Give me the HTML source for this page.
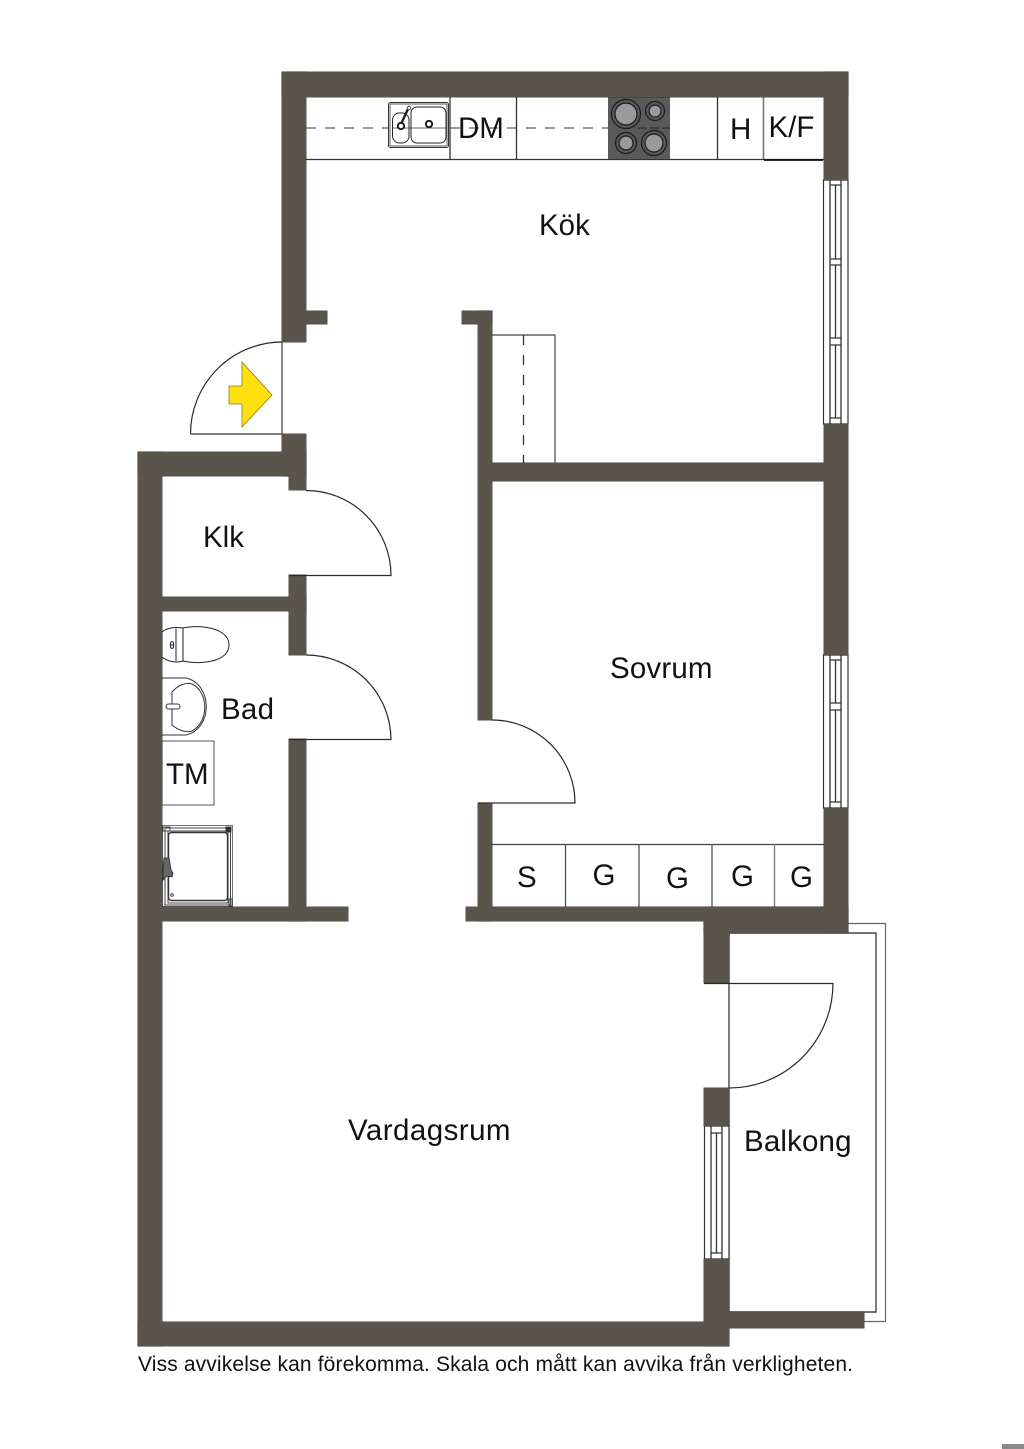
<!DOCTYPE html>
<html><head><meta charset="utf-8"><style>
html,body{margin:0;padding:0;background:#fff}
svg{display:block}
text{font-family:"Liberation Sans",sans-serif;fill:#111}
</style></head><body>
<svg width="1024" height="1449" viewBox="0 0 1024 1449" xmlns="http://www.w3.org/2000/svg">
<rect width="1024" height="1449" fill="#fff"/>
<rect x="1002" y="1444" width="22" height="5" fill="#8a8a8a"/>

<!-- balcony outlines -->
<path d="M848 923.500H885.500V1321.500H864" fill="none" stroke="#666" stroke-width="1.200"/>
<path d="M729 933H876V1312H729Z" fill="#fff" stroke="#444" stroke-width="1.400"/>

<!-- kitchen counter -->
<g fill="none" stroke="#333" stroke-width="1.300">
<path d="M306 159.500H824M450 97V159M516.500 97V159M717.500 97V159"/>
<path d="M763.500 97V159" stroke="#777" stroke-width="1.600"/>
</g>
<path d="M764 160H823" stroke="#111" stroke-width="1.800"/>
<path d="M306 128H388M450 128H608" stroke="#333" stroke-width="1" stroke-dasharray="10 9" fill="none"/>

<!-- sink -->
<rect x="388.500" y="102.500" width="60" height="45" rx="2" fill="#fff" stroke="#333" stroke-width="1"/>
<rect x="390" y="104" width="57" height="42" rx="1" fill="#fff" stroke="#777" stroke-width="1.200"/>
<rect x="392.500" y="113" width="16.500" height="30" rx="7" fill="#fff" stroke="#222" stroke-width="1"/>
<rect x="411" y="107" width="35" height="36" rx="6" fill="#fff" stroke="#222" stroke-width="1"/>
<path d="M392 128H446" stroke="#333" stroke-width="0.800" fill="none"/>
<circle cx="401" cy="126" r="3.200" fill="#fff" stroke="#111" stroke-width="1.800"/>
<circle cx="429" cy="124" r="3.200" fill="#fff" stroke="#111" stroke-width="1.800"/>
<path d="M401 124L408 109" stroke="#222" stroke-width="2.400" fill="none"/>
<circle cx="409" cy="108" r="1.800" fill="#fff" stroke="#222" stroke-width="0.800"/>

<!-- hob -->
<rect x="608" y="97" width="62" height="62" fill="#5a5a5a"/>
<path d="M638 128H670" stroke="#222" stroke-width="1" stroke-dasharray="9 3"/>
<g stroke="#1a1a1a" stroke-width="1.200">
<circle cx="626" cy="114" r="14.500" fill="#5a5a5a"/><circle cx="626" cy="114" r="11" fill="#9a9a9a"/>
<circle cx="655" cy="111" r="9.500" fill="#5a5a5a"/><circle cx="655" cy="111" r="6" fill="#9a9a9a"/>
<circle cx="626" cy="143" r="10.500" fill="#5a5a5a"/><circle cx="626" cy="143" r="7" fill="#9a9a9a"/>
<circle cx="654" cy="143" r="12.500" fill="#5a5a5a"/><circle cx="654" cy="143" r="9" fill="#9a9a9a"/>
</g>

<!-- storage unit in kitchen -->
<path d="M492 335H555V463" fill="none" stroke="#444" stroke-width="1.200"/>
<path d="M523.500 335V463" fill="none" stroke="#333" stroke-width="1.300" stroke-dasharray="10 10"/>

<!-- wardrobes -->
<path d="M492 844.500H824M565.500 844V907M639 844V907M712 844V907" fill="none" stroke="#444" stroke-width="1.200"/>
<path d="M774.500 844V907" fill="none" stroke="#777" stroke-width="1.300"/>

<!-- TM -->
<rect x="162" y="741" width="52" height="64" fill="#fff" stroke="#555" stroke-width="1"/>

<!-- toilet -->
<g fill="#fff" stroke="#222" stroke-width="1">
<path d="M183 628C200 624 229 628 229 645C229 662 200 665 183 661Z"/>
<path d="M162 632C168 627 177 627 183 628V661C177 663 168 662 162 657Z"/>
<path d="M176 628.500V661"/>
<ellipse cx="172" cy="645" rx="1.700" ry="3.500"/>
<path d="M170.300 645H173.700"/>
</g>
<!-- basin -->
<g fill="#fff" stroke="#333" stroke-width="1">
<path d="M162 678H186C213 684 213 729 186 735H162"/>
<path d="M172 692C178 685 186 682 192 684C209 692 209 722 192 731C186 733 178 730 172 725Z"/>
<rect x="166" y="704" width="14" height="5" rx="2.500"/>
</g>
<!-- shower -->
<g fill="none" stroke="#333" stroke-width="0.900">
<rect x="162.500" y="825.500" width="70" height="81" stroke="#666"/>
<rect x="165" y="828" width="65.500" height="77"/>
<rect x="168" y="831" width="60" height="72"/>
<rect x="168.500" y="832.500" width="59" height="68" rx="3" stroke-width="1.400"/>
<circle cx="172" cy="895" r="1.300"/>
<rect x="163" y="827" width="7" height="4"/><rect x="226" y="827" width="5" height="5" fill="#333"/><rect x="229" y="899" width="3" height="7"/>
</g>
<path d="M164 858H169L171 870L173 873L172 877L167 876L163 880V868Z" fill="#666" stroke="#222" stroke-width="0.800"/>

<!-- windows -->
<g fill="#fff" stroke="#333" stroke-width="1.200">
<rect x="823.500" y="180" width="24.500" height="244"/>
<rect x="823.500" y="655" width="24.500" height="153"/>
<rect x="704.500" y="1126" width="24.500" height="133"/>
</g>
<g fill="none" stroke="#333" stroke-width="1.300">
<path d="M830 180V424M841 180V424M835.500 185V259M835.500 265V338M835.500 345V418M830 185H841M830 259H841M830 265H841M830 338H841M830 345H841M830 418H841"/>
<path d="M830 655V808M841 655V808M830 660H841M830 703H841M830 710H841M830 802H841M835.500 660V703M835.500 710V802"/>
<path d="M711 1126V1259M722 1126V1259M711 1133H722M711 1253H722M716.500 1133V1253"/>
</g>

<!-- walls -->
<defs>
<g id="w">
<rect x="282" y="72" width="566" height="25"/>
<rect x="282" y="72" width="24" height="270"/>
<rect x="306" y="311" width="21" height="13"/>
<rect x="824" y="72" width="24" height="108"/>
<rect x="824" y="424" width="24" height="231"/>
<rect x="824" y="808" width="24" height="125"/>
<rect x="462" y="311" width="30" height="13"/>
<rect x="478" y="311" width="14" height="409"/>
<rect x="492" y="463" width="332" height="18"/>
<rect x="478" y="803" width="14" height="118"/>
<rect x="466" y="907" width="382" height="14"/>
<rect x="704" y="907" width="144" height="26"/>
<rect x="704" y="921" width="25" height="62"/>
<rect x="704" y="1088" width="25" height="38"/>
<rect x="704" y="1259" width="25" height="87"/>
<rect x="729" y="1312" width="135" height="16"/>
<rect x="138" y="1322" width="591" height="24"/>
<rect x="138" y="452" width="24" height="894"/>
<rect x="138" y="452" width="168" height="24"/>
<rect x="282" y="434" width="24" height="42"/>
<rect x="289" y="476" width="17" height="14"/>
<rect x="289" y="575" width="17" height="80"/>
<rect x="162" y="597" width="144" height="14"/>
<rect x="289" y="739" width="17" height="182"/>
<rect x="162" y="907" width="186" height="14"/>
</g>
</defs>
<use href="#w" fill="#222220" stroke="#222220" stroke-width="0.800"/>
<use href="#w" fill="#59554a"/>

<!-- doors -->
<g fill="none" stroke="#2a2a2a" stroke-width="1.200">
<path d="M282 342A92 92 0 0 0 190.500 434"/>
<path d="M190.500 434H282M282 342V434" stroke="#555" stroke-width="1.400"/>
<path d="M306 490.500A85 85 0 0 1 391 575.500H289"/>
<path d="M306 655A85 85 0 0 1 391 739.500H289"/>
<path d="M492 720A83 83 0 0 1 575 803H478"/>
<path d="M729 1088A104 105 0 0 0 833 983.500H704"/>
</g>

<!-- entry arrow -->
<polygon points="242,362 272,395 242,427 242,404 229,404 229,386 242,386" fill="#ffe00f" stroke="#8a7a1a" stroke-width="0.800"/>

<!-- labels -->
<g font-size="29.500">
<text x="539" y="235">Kök</text>
<text x="203" y="547">Klk</text>
<text x="610" y="678" textLength="102.500">Sovrum</text>
<text x="348" y="1140" textLength="162.500">Vardagsrum</text>
<text x="744" y="1151" textLength="107.500">Balkong</text>
<text x="221" y="719" textLength="53">Bad</text>
<text x="166" y="784">TM</text>
<text x="458" y="138">DM</text>
<text x="730" y="139">H</text>
<text x="768.500" y="137">K/F</text>
<text x="517" y="887">S</text>
<text x="592.500" y="885">G</text>
<text x="666" y="888">G</text>
<text x="731" y="886">G</text>
<text x="790" y="887">G</text>
</g>
<text x="138" y="1371" font-size="21" textLength="715" lengthAdjust="spacing">Viss avvikelse kan förekomma. Skala och mått kan avvika från verkligheten.</text>
</svg>
</body></html>
